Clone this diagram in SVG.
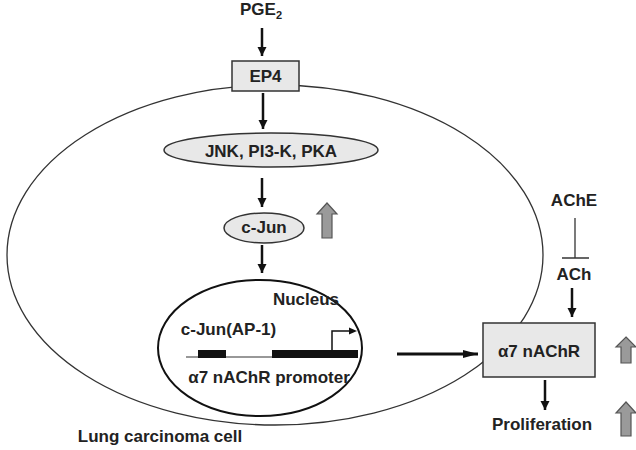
<svg xmlns="http://www.w3.org/2000/svg" width="636" height="450" viewBox="0 0 636 450">
<style>
text{font-family:"Liberation Sans",Arial,sans-serif;font-weight:bold;font-size:17px;fill:#222;text-anchor:middle}
.box{fill:#e8e8e8;stroke:#333;stroke-width:1.5}
.arr{stroke:#111;stroke-width:2.5;fill:none;marker-end:url(#ah)}
.up{fill:#9a9a9a;stroke:#555;stroke-width:1.2}
</style>
<defs>
<marker id="ah" markerUnits="userSpaceOnUse" markerWidth="10" markerHeight="10" refX="9" refY="4.5" orient="auto">
<path d="M0,0 L9,4.5 L0,9 Z" fill="#111"/>
</marker>
<marker id="ah2" markerUnits="userSpaceOnUse" markerWidth="16" markerHeight="10" refX="15" refY="4" orient="auto">
<path d="M0,0 L15,4 L0,8 Z" fill="#111"/>
</marker>
</defs>
<g id="cell">
<ellipse cx="275" cy="255" rx="268" ry="170" fill="none" stroke="#333" stroke-width="1.3"/>
<text x="160" y="442">Lung carcinoma cell</text>
</g>
<g id="pge2"><text x="261" y="15">PGE<tspan font-size="11" dy="4">2</tspan></text></g>
<g id="ep4"><rect class="box" x="232" y="61" width="67" height="30"/><text x="265.5" y="82">EP4</text></g>
<g id="kinases"><ellipse class="box" cx="271" cy="150" rx="107" ry="17"/><text x="271" y="157">JNK, PI3-K, PKA</text></g>
<g id="cjun"><ellipse class="box" cx="264" cy="228" rx="40" ry="15"/><text x="264" y="233">c-Jun</text></g>
<g id="nucleus">
<ellipse cx="260" cy="348" rx="102" ry="68" fill="#fff" stroke="#111" stroke-width="2"/>
<text x="306" y="305">Nucleus</text>
<text x="228.5" y="335">c-Jun(AP-1)</text>
<line x1="186" y1="357" x2="358" y2="357" stroke="#333" stroke-width="1.2"/>
<rect x="198" y="350" width="28" height="8" fill="#111"/>
<rect x="272" y="350" width="86" height="8" fill="#111"/>
<path d="M332,350 V331 H350" stroke="#111" stroke-width="1.5" fill="none"/>
<path d="M349,327.5 L357,331 L349,334.5 Z" fill="#111"/>
<text x="269" y="383">α7 nAChR promoter</text>
</g>
<g id="a7nachr"><rect class="box" x="483" y="323" width="112" height="54"/><text x="539" y="357">α7 nAChR</text></g>
<g id="ache"><text x="574" y="206">AChE</text></g>
<g id="ach"><text x="574" y="280">ACh</text></g>
<g id="proliferation"><text x="542" y="430">Proliferation</text></g>
<g id="updown">
<path class="up" d="M327,203 L337,214 L332,214 L332,238 L322,238 L322,214 L317,214 Z"/>
<path class="up" d="M626,337 L636,347 L631,347 L631,363 L621,363 L621,347 L616,347 Z"/>
<path class="up" d="M626,402 L636,413 L631,413 L631,436 L621,436 L621,413 L616,413 Z"/>
</g>
<g id="connectors">
<line class="arr" x1="262" y1="28" x2="262" y2="56"/>
<line class="arr" x1="263" y1="93" x2="263" y2="129"/>
<line class="arr" x1="262" y1="178" x2="262" y2="207"/>
<line class="arr" x1="262" y1="245" x2="262" y2="273"/>
<line x1="397" y1="354" x2="478" y2="354" stroke="#111" stroke-width="3" marker-end="url(#ah2)"/>
<line x1="575" y1="218" x2="575" y2="258" stroke="#333" stroke-width="1.3"/>
<line x1="562" y1="258" x2="589" y2="258" stroke="#333" stroke-width="1.5"/>
<line class="arr" x1="572" y1="288" x2="572" y2="317"/>
<line class="arr" x1="545" y1="380" x2="545" y2="410"/>
</g>
</svg>
